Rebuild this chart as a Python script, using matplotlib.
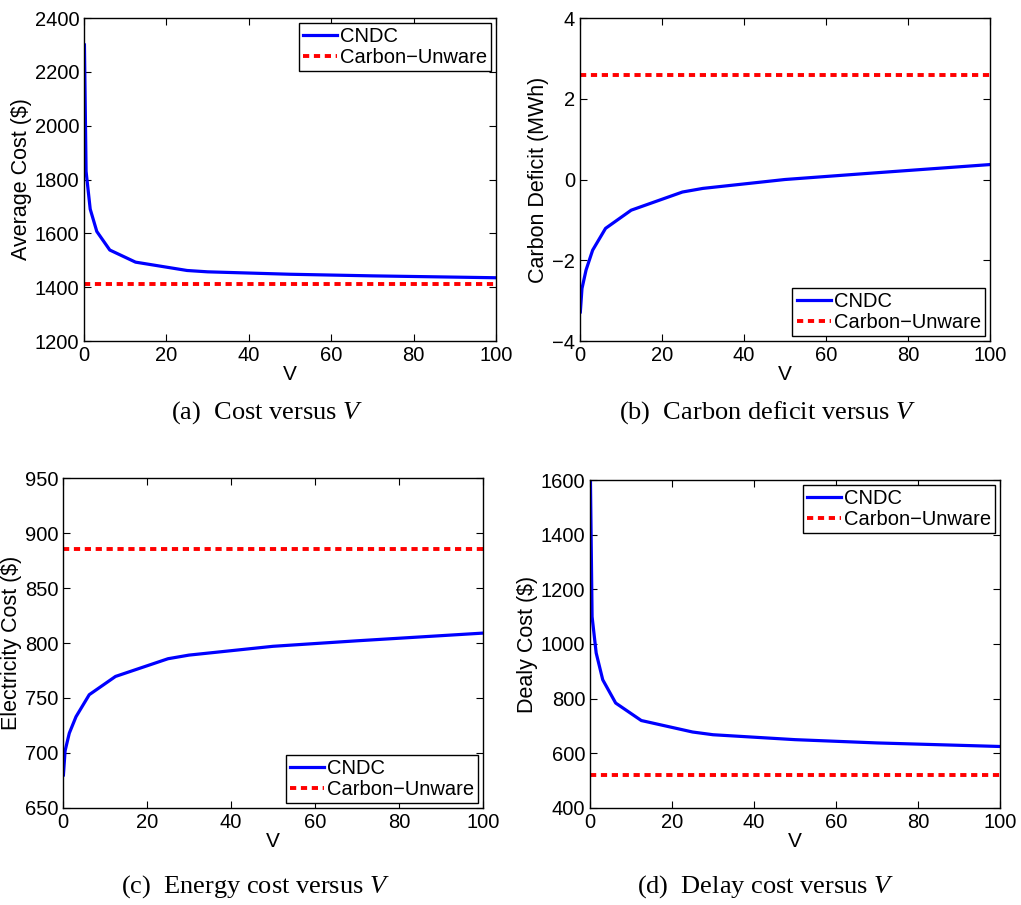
import matplotlib
matplotlib.use("Agg")
import matplotlib.pyplot as plt

plt.rcParams['font.family'] = ['Liberation Sans', 'DejaVu Sans']
plt.rcParams['mathtext.fontset'] = 'custom'
plt.rcParams['mathtext.it'] = 'Liberation Serif:italic'
plt.rcParams['mathtext.rm'] = 'Liberation Serif'

# V values (x axis)
V = [0.1, 0.5, 1.5, 3.1, 6.25, 12.5, 25, 30, 50, 70, 100]

# CNDC curves
avg_cost = [2300, 1830, 1690, 1607, 1538, 1493, 1462, 1457, 1448, 1442, 1435]
carbon_deficit = [-3.28, -2.7, -2.24, -1.75, -1.21, -0.76, -0.31, -0.22, 0.0, 0.15, 0.37]
elec_cost = [680, 702, 718, 733, 753, 769.6, 785.7, 789, 797, 802, 809]
delay_cost = [1600, 1100, 967, 869, 784, 720, 678, 668, 650, 638, 625]

# Carbon-Unware baselines
base_cost = 1410
base_deficit = 2.6
base_elec = 885.7
base_delay = 520

fig = plt.figure(figsize=(10.21, 9.05), dpi=100)

panels = [
    # rect, cndc, baseline, ylim, yticks, ylabel, legend loc, caption, caption pos
    ([0.0823, 0.6232, 0.4035, 0.3569], avg_cost, base_cost, (1200, 2400),
     range(1200, 2401, 200), "Average Cost ($)", "upper right",
     "(a)  Cost versus ", (0.262, 0.538)),
    ([0.5680, 0.6232, 0.4016, 0.3569], carbon_deficit, base_deficit, (-4, 4),
     range(-4, 5, 2), "Carbon Deficit (MWh)", "lower right",
     "(b)  Carbon deficit versus ", (0.752, 0.538)),
    ([0.0617, 0.1072, 0.4114, 0.3646], elec_cost, base_elec, (650, 950),
     range(650, 951, 50), "Electricity Cost ($)", "lower right",
     "(c)  Energy cost versus ", (0.25, 0.014)),
    ([0.5779, 0.1072, 0.4016, 0.3624], delay_cost, base_delay, (400, 1600),
     range(400, 1601, 200), "Dealy Cost ($)", "upper right",
     "(d)  Delay cost versus ", (0.75, 0.014)),
]

for rect, cndc, base, ylim, yticks, ylabel, loc, caption, cpos in panels:
    ax = fig.add_axes(rect)
    ax.plot(V, cndc, color='#0000ff', lw=2.3, label='CNDC')
    ax.axhline(base, color='#ff0000', lw=2.8, linestyle=(0, (1.6, 1.2)),
               label='Carbon\u2212Unware')
    ax.set_xlim(0, 100)
    ax.set_ylim(*ylim)
    ax.set_xticks(range(0, 101, 20))
    ax.set_yticks(list(yticks))
    ax.tick_params(direction='in', top=True, right=True, length=5,
                   labelsize=14.5, width=0.8)
    for s in ax.spines.values():
        s.set_linewidth(1.0)
    ax.set_xlabel("V", fontsize=15, labelpad=0)
    ax.set_ylabel(ylabel, fontsize=15.5, labelpad=2)
    leg = ax.legend(loc=loc, fontsize=14.5, fancybox=False, framealpha=1,
                    edgecolor='black', borderaxespad=0.25, handlelength=1.7,
                    handletextpad=0.15, borderpad=0.2, labelspacing=0.1)
    leg.get_frame().set_linewidth(1.0)
    fig.text(cpos[0], cpos[1], caption + r"$\mathit{V}$", ha='center',
             va='baseline', fontsize=19, family='Liberation Serif')

fig.savefig("out.png", dpi=100)
